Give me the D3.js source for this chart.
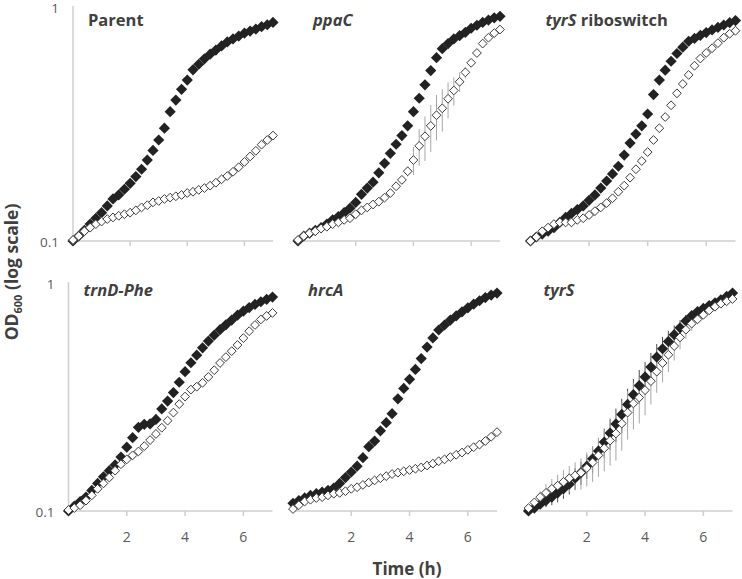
<!DOCTYPE html>
<html lang="en">
<head>
    <meta charset="UTF-8">
    <title>OD600 growth curves</title>
    <script src="https://d3js.org/d3.v7.min.js"></script>
    <style>
        body { margin: 0; padding: 0; background: #fff; }
        svg { display: block; font-family: "Open Sans", sans-serif; }
    </style>
</head>
<body>

<svg id="chart" width="742" height="579"></svg>

<script>

    // Sampling times (h)
    const times = [0, 0.2, 0.4, 0.6, 0.8, 1, 1.2, 1.4, 1.6, 1.8, 2, 2.2, 2.4, 2.6, 2.8, 3, 3.2, 3.4,
                   3.6, 3.8, 4, 4.2, 4.4, 4.6, 4.8, 5, 5.2, 5.4, 5.6, 5.8, 6, 6.2, 6.4, 6.6, 6.8, 7];

    const xTicks = [2, 4, 6];
    const yTicks = [0.1, 1];

    // OD600 readings, filled (black) and open diamonds
    const parentFilled = [0.100,0.105,0.111,0.118,0.125,0.132,0.141,0.151,0.157,0.166,0.176,0.188,0.202,0.221,0.243,0.269,0.302,0.355,
                          0.398,0.442,0.484,0.535,0.565,0.596,0.624,0.649,0.676,0.703,0.724,0.745,0.766,0.782,0.798,0.817,0.832,0.851];
    const parentOpen   = [0.101,0.105,0.110,0.114,0.118,0.121,0.124,0.126,0.128,0.130,0.132,0.135,0.139,0.142,0.146,0.148,0.151,0.153,
                          0.155,0.157,0.160,0.162,0.165,0.168,0.172,0.177,0.183,0.189,0.197,0.206,0.217,0.229,0.242,0.257,0.269,0.281];

    const ppaCFilled = [0.100,0.105,0.108,0.111,0.114,0.118,0.123,0.127,0.132,0.138,0.146,0.158,0.168,0.178,0.195,0.214,0.236,0.258,
                        0.281,0.309,0.355,0.405,0.462,0.531,0.603,0.658,0.692,0.724,0.748,0.773,0.804,0.828,0.851,0.871,0.891,0.904];
    const ppaCOpen   = [0.101,0.105,0.108,0.110,0.113,0.115,0.118,0.120,0.123,0.125,0.130,0.135,0.139,0.143,0.147,0.153,0.160,0.171,
                        0.182,0.198,0.221,0.254,0.279,0.309,0.343,0.367,0.403,0.437,0.476,0.522,0.573,0.631,0.692,0.733,0.767,0.794];
    const ppaCOpenErr = [0,0,0,0,0,0,0,0,0,0,0,0,0,0,0,0,0,0,
                         0.005,0.01,0.03,0.045,0.06,0.07,0.075,0.075,0.07,0.06,0.045,0.03,0.015,0.01,0.005,0,0,0];

    const rswFilled = [0.100,0.104,0.107,0.110,0.114,0.120,0.126,0.131,0.136,0.141,0.149,0.157,0.168,0.180,0.193,0.208,0.232,0.261,
                       0.285,0.309,0.347,0.420,0.484,0.533,0.582,0.628,0.668,0.708,0.728,0.750,0.771,0.791,0.811,0.830,0.849,0.867];
    const rswOpen   = [0.100,0.104,0.110,0.114,0.118,0.120,0.120,0.120,0.123,0.125,0.129,0.134,0.139,0.145,0.152,0.162,0.172,0.186,
                       0.202,0.219,0.239,0.269,0.302,0.337,0.378,0.425,0.466,0.509,0.557,0.598,0.631,0.661,0.695,0.733,0.762,0.785];

    const trnFilled = [0.100,0.105,0.110,0.115,0.123,0.132,0.141,0.150,0.159,0.172,0.190,0.209,0.232,0.239,0.240,0.251,0.279,0.302,
                       0.329,0.365,0.406,0.444,0.479,0.516,0.552,0.586,0.619,0.650,0.682,0.716,0.746,0.773,0.798,0.820,0.840,0.859];
    const trnOpen   = [0.101,0.103,0.106,0.111,0.117,0.125,0.132,0.140,0.150,0.160,0.168,0.175,0.182,0.192,0.204,0.217,0.231,0.248,
                       0.269,0.293,0.316,0.339,0.349,0.363,0.385,0.412,0.443,0.470,0.499,0.531,0.569,0.610,0.649,0.686,0.711,0.733];

    const hrcFilled = [0.108,0.111,0.114,0.117,0.119,0.121,0.123,0.126,0.132,0.140,0.148,0.157,0.171,0.191,0.202,0.224,0.243,0.266,
                       0.309,0.343,0.376,0.415,0.463,0.520,0.570,0.617,0.649,0.682,0.711,0.741,0.771,0.800,0.828,0.855,0.877,0.895];
    const hrcOpen   = [0.102,0.106,0.110,0.112,0.114,0.115,0.117,0.119,0.120,0.122,0.125,0.127,0.130,0.133,0.136,0.139,0.142,0.145,
                       0.147,0.149,0.151,0.153,0.155,0.158,0.161,0.165,0.168,0.172,0.176,0.180,0.185,0.190,0.195,0.202,0.211,0.221];

    const tyrFilled = [0.100,0.103,0.107,0.111,0.115,0.120,0.125,0.131,0.139,0.147,0.157,0.169,0.183,0.200,0.219,0.240,0.264,0.292,
                       0.322,0.353,0.385,0.425,0.470,0.511,0.550,0.589,0.631,0.676,0.713,0.743,0.767,0.789,0.811,0.836,0.865,0.895];
    const tyrOpen   = [0.103,0.109,0.115,0.120,0.125,0.129,0.134,0.139,0.143,0.147,0.154,0.163,0.175,0.188,0.203,0.218,0.241,0.269,
                       0.295,0.313,0.337,0.369,0.406,0.443,0.481,0.525,0.573,0.619,0.658,0.687,0.719,0.752,0.780,0.804,0.824,0.843];
    const tyrFilledErr = [0,0,0.004,0.007,0.009,0.011,0.012,0.013,0.015,0.017,0.019,0.022,0.025,0.029,0.034,0.04,0.045,0.05,
                          0.055,0.06,0.063,0.065,0.066,0.065,0.062,0.057,0.05,0.042,0.033,0.024,0.016,0.011,0.008,0.006,0.004,0.003];
    const tyrOpenErr   = [0,0,0.007,0.011,0.013,0.015,0.017,0.018,0.02,0.023,0.026,0.029,0.034,0.039,0.045,0.052,0.058,0.064,
                          0.068,0.072,0.075,0.077,0.078,0.078,0.076,0.071,0.064,0.055,0.045,0.034,0.024,0.016,0.011,0.008,0.006,0.005];

    // Panel titles (italic gene names)
    const titles = [
        [["Parent", false]],
        [["ppaC", true]],
        [["tyrS", true], [" riboswitch", false]],
        [["trnD-Phe", true]],
        [["hrcA", true]],
        [["tyrS", true]]
    ];

    // Layout of the 2x3 grid
    const rows = [{ top: 6, bottom: 241 }, { top: 282, bottom: 511 }];
    const panels = [
        { row: 0, left: 73,    width: 200, filled: parentFilled, open: parentOpen },
        { row: 0, left: 298,   width: 202, filled: ppaCFilled,   open: ppaCOpen, openErr: ppaCOpenErr },
        { row: 0, left: 530.5, width: 205, filled: rswFilled,    open: rswOpen },
        { row: 1, left: 68.5,  width: 204, filled: trnFilled,    open: trnOpen },
        { row: 1, left: 293,   width: 204, filled: hrcFilled,    open: hrcOpen },
        { row: 1, left: 528.5, width: 204, filled: tyrFilled,    open: tyrOpen, filledErr: tyrFilledErr, openErr: tyrOpenErr }
    ];

    const svg = d3.select("#chart");
    const diamond = r => `M0,${-r}L${r},0L0,${r}L${-r},0Z`;

    panels.forEach((p, i) => {
        const row = rows[p.row];
        const x = d3.scaleLinear().domain([0, 7]).range([p.left, p.left + p.width]);
        const y = d3.scaleLog().domain([0.1, 1]).range([row.bottom, row.top]);
        const g = svg.append("g");

        // bottom axis line + ticks
        g.append("line")
            .attr("x1", x(0)).attr("x2", x(7))
            .attr("y1", y(0.1)).attr("y2", y(0.1))
            .attr("stroke", "#cfcfcf").attr("stroke-width", 1.5);
        g.selectAll(".tick").data(xTicks).enter().append("line")
            .attr("x1", d => x(d)).attr("x2", d => x(d))
            .attr("y1", y(0.1)).attr("y2", y(0.1) + 5)
            .attr("stroke", "#cfcfcf").attr("stroke-width", 1.5);

        // x tick labels only on bottom row
        if (p.row === 1) {
            g.selectAll(".xlab").data(xTicks).enter().append("text")
                .attr("x", d => x(d)).attr("y", y(0.1) + 31)
                .attr("text-anchor", "middle")
                .attr("font-size", 14).attr("fill", "#595959")
                .text(d => d);
        }

        // y axis only on the left column
        if (i % 3 === 0) {
            g.append("line")
                .attr("x1", x(0)).attr("x2", x(0))
                .attr("y1", y(1)).attr("y2", y(0.1))
                .attr("stroke", "#cfcfcf").attr("stroke-width", 1.5);
            g.selectAll(".ylab").data(yTicks).enter().append("text")
                .attr("x", x(0) - 14).attr("y", d => y(d) + (d === 1 ? 7 : 6))
                .attr("text-anchor", "end")
                .attr("font-size", 13.5).attr("fill", "#595959")
                .text(d => d);
        }

        // error bars (behind markers)
        [[p.filledErr, p.filled, "#4d4d4d"], [p.openErr, p.open, "#a6a6a6"]].forEach(([err, vals, col]) => {
            if (!err) return;
            const idx = times.map((t, k) => k).filter(k => err[k] > 0);
            g.selectAll(null).data(idx).enter().append("line")
                .attr("x1", k => x(times[k])).attr("x2", k => x(times[k]))
                .attr("y1", k => y(vals[k] + err[k]))
                .attr("y2", k => y(Math.max(0.1, vals[k] - err[k])))
                .attr("stroke", col).attr("stroke-width", 1);
        });

        // filled diamonds
        g.selectAll(null).data(p.filled).enter().append("path")
            .attr("d", diamond(5.6))
            .attr("transform", (d, k) => `translate(${x(times[k])},${y(d)})`)
            .attr("fill", "#222");

        // open diamonds
        g.selectAll(null).data(p.open).enter().append("path")
            .attr("d", diamond(4.4))
            .attr("transform", (d, k) => `translate(${x(times[k])},${y(d)})`)
            .attr("fill", "#fff").attr("stroke", "#3a3a3a").attr("stroke-width", 1);

        // panel title
        const t = g.append("text")
            .attr("x", p.left + 15).attr("y", row.top + (p.row === 0 ? 20 : 14))
            .attr("font-size", 16.5).attr("font-weight", "bold").attr("fill", "#404040");
        titles[i].forEach(([s, it]) => {
            t.append("tspan").attr("font-style", it ? "italic" : "normal").text(s);
        });
    });

    // axis titles
    const yl = svg.append("text")
        .attr("transform", "translate(18,272) rotate(-90)")
        .attr("text-anchor", "middle")
        .attr("font-size", 17.5).attr("font-weight", "bold").attr("fill", "#404040");
    yl.append("tspan").text("OD");
    yl.append("tspan").attr("font-size", 11).attr("dy", 4).text("600");
    yl.append("tspan").attr("dy", -4).text(" (log scale)");

    svg.append("text")
        .attr("x", 407).attr("y", 575)
        .attr("text-anchor", "middle")
        .attr("font-size", 17).attr("font-weight", "bold").attr("fill", "#404040")
        .text("Time (h)");

</script>

</body>
</html>
